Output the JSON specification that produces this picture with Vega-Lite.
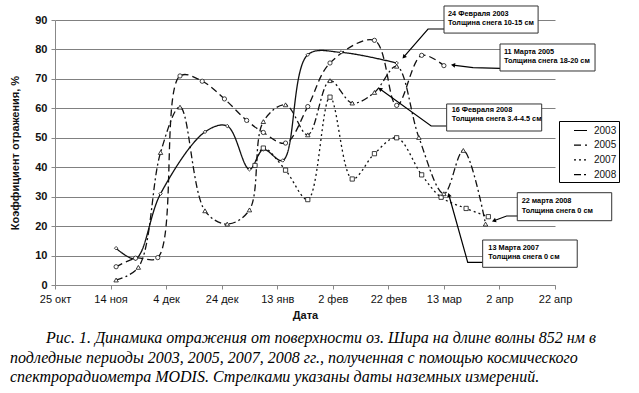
{
  "$schema": "https://vega.github.io/schema/vega-lite/v6.json",
  "width": 500,
  "height": 265,
  "autosize": {"type": "none"},
  "padding": {"left": 55, "top": 20, "right": 84, "bottom": 108},
  "background": "white",
  "config": {
    "view": {"stroke": null},
    "font": "Liberation Sans",
    "axis": {"labelColor": "#111", "titleColor": "#111", "domainColor": "#888", "tickColor": "#888"}
  },
  "title": {
    "text": [
      "\u2800\u2800\u2800Рис. 1. Динамика отражения от поверхности оз. Шира на длине волны 852 нм в",
      "подледные периоды 2003, 2005, 2007, 2008 гг., полученная с помощью космического",
      "спектрорадиометра MODIS. Стрелками указаны даты наземных измерений."
    ],
    "orient": "bottom",
    "anchor": "start",
    "frame": "group",
    "dx": -45,
    "offset": 10,
    "font": "Liberation Serif",
    "fontStyle": "italic",
    "fontWeight": "normal",
    "fontSize": 16,
    "lineHeight": 19.5,
    "color": "#000"
  },
  "datasets": {
    "series": [
      {"year": "2003", "date": "2007-11-16T00:00", "value": 12.5},
      {"year": "2003", "date": "2007-11-23T00:00", "value": 9},
      {"year": "2003", "date": "2007-12-02T00:00", "value": 31},
      {"year": "2003", "date": "2007-12-18T00:00", "value": 52},
      {"year": "2003", "date": "2007-12-26T00:00", "value": 54},
      {"year": "2003", "date": "2008-01-03T00:00", "value": 39.3},
      {"year": "2003", "date": "2008-01-08T00:00", "value": 46},
      {"year": "2003", "date": "2008-01-15T00:00", "value": 42.3},
      {"year": "2003", "date": "2008-01-24T00:00", "value": 78.2},
      {"year": "2003", "date": "2008-02-05T00:00", "value": 79},
      {"year": "2003", "date": "2008-02-25T00:00", "value": 75.4},
      {"year": "2005", "date": "2007-11-16T00:00", "value": 6.2},
      {"year": "2005", "date": "2007-11-23T00:00", "value": 9.1},
      {"year": "2005", "date": "2007-12-01T00:00", "value": 9.3},
      {"year": "2005", "date": "2007-12-09T00:00", "value": 71},
      {"year": "2005", "date": "2007-12-17T00:00", "value": 69.2},
      {"year": "2005", "date": "2007-12-25T00:00", "value": 63.2},
      {"year": "2005", "date": "2008-01-02T00:00", "value": 55.9},
      {"year": "2005", "date": "2008-01-08T00:00", "value": 51.8},
      {"year": "2005", "date": "2008-01-16T00:00", "value": 48.2},
      {"year": "2005", "date": "2008-01-24T00:00", "value": 60.6},
      {"year": "2005", "date": "2008-02-01T00:00", "value": 75.4},
      {"year": "2005", "date": "2008-02-17T00:00", "value": 83.1},
      {"year": "2005", "date": "2008-02-25T00:00", "value": 61},
      {"year": "2005", "date": "2008-03-05T00:00", "value": 78},
      {"year": "2005", "date": "2008-03-13T00:00", "value": 74.5},
      {"year": "2007", "date": "2008-01-05T00:00", "value": 40.6},
      {"year": "2007", "date": "2008-01-08T00:00", "value": 46.5},
      {"year": "2007", "date": "2008-01-16T00:00", "value": 39},
      {"year": "2007", "date": "2008-01-24T00:00", "value": 29},
      {"year": "2007", "date": "2008-02-01T00:00", "value": 63.8},
      {"year": "2007", "date": "2008-02-09T00:00", "value": 36},
      {"year": "2007", "date": "2008-02-17T00:00", "value": 44.6},
      {"year": "2007", "date": "2008-02-25T00:00", "value": 50},
      {"year": "2007", "date": "2008-03-05T00:00", "value": 37.4},
      {"year": "2007", "date": "2008-03-12T00:00", "value": 29.8},
      {"year": "2007", "date": "2008-03-21T00:00", "value": 26},
      {"year": "2007", "date": "2008-03-29T00:00", "value": 23.2},
      {"year": "2008", "date": "2007-11-16T00:00", "value": 1.7},
      {"year": "2008", "date": "2007-11-24T00:00", "value": 6},
      {"year": "2008", "date": "2007-12-02T00:00", "value": 45},
      {"year": "2008", "date": "2007-12-09T00:00", "value": 60.4},
      {"year": "2008", "date": "2007-12-18T00:00", "value": 25.2},
      {"year": "2008", "date": "2007-12-26T00:00", "value": 20.7},
      {"year": "2008", "date": "2008-01-03T00:00", "value": 25.5},
      {"year": "2008", "date": "2008-01-08T00:00", "value": 55.5},
      {"year": "2008", "date": "2008-01-16T00:00", "value": 61.2},
      {"year": "2008", "date": "2008-01-24T00:00", "value": 51},
      {"year": "2008", "date": "2008-02-01T00:00", "value": 69.4},
      {"year": "2008", "date": "2008-02-09T00:00", "value": 61.8},
      {"year": "2008", "date": "2008-02-17T00:00", "value": 65.4},
      {"year": "2008", "date": "2008-02-25T00:00", "value": 74.3},
      {"year": "2008", "date": "2008-03-04T00:00", "value": 50.1},
      {"year": "2008", "date": "2008-03-13T00:00", "value": 31},
      {"year": "2008", "date": "2008-03-20T00:00", "value": 45.7},
      {"year": "2008", "date": "2008-03-28T00:00", "value": 20.7}
    ],
    "boxes": [
      {"date": "2008-03-13T01:00", "date2": "2008-04-15T22:00", "value": 94.76, "value2": 85.56},
      {"date": "2008-04-02T05:00", "date2": "2008-05-06T10:00", "value": 81.85, "value2": 72.68},
      {"date": "2008-03-14T00:00", "date2": "2008-04-17T05:00", "value": 61.48, "value2": 52.3},
      {"date": "2008-04-08T10:00", "date2": "2008-05-12T10:00", "value": 31.35, "value2": 21.84},
      {"date": "2008-03-26T23:00", "date2": "2008-04-30T00:00", "value": 15.28, "value2": 6.01}
    ],
    "notes": [
      {"date": "2008-03-14T12:00", "value": 92.0, "text": "24 Февраля 2003"},
      {"date": "2008-03-14T12:00", "value": 89.1, "text": "Толщина снега 10-15 см"},
      {"date": "2008-04-03T15:00", "value": 79.24, "text": "11 Марта 2005"},
      {"date": "2008-04-03T15:00", "value": 76.18, "text": "Толщина снега 18-20 см"},
      {"date": "2008-03-15T19:00", "value": 59.44, "text": "16 Февраля 2008"},
      {"date": "2008-03-15T19:00", "value": 56.38, "text": "Толщина снега 3.4-4.5 см"},
      {"date": "2008-04-10T00:00", "value": 28.63, "text": "22 марта 2008"},
      {"date": "2008-04-10T00:00", "value": 25.13, "text": "Толщина снега 0 см"},
      {"date": "2008-03-29T00:00", "value": 12.67, "text": "13 Марта 2007"},
      {"date": "2008-03-29T00:00", "value": 9.61, "text": "Толщина снега 0 см"}
    ],
    "arrows": [
      {"arrow": "a1", "date": "2008-03-13T01:00", "value": 86.94},
      {"arrow": "a1", "date": "2008-03-07T07:00", "value": 86.94},
      {"arrow": "a1", "date": "2008-02-27T14:00", "value": 77.44},
      {"arrow": "a2", "date": "2008-04-02T05:00", "value": 73.6},
      {"arrow": "a2", "date": "2008-03-23T12:00", "value": 73.8},
      {"arrow": "a2", "date": "2008-03-16T07:00", "value": 74.7},
      {"arrow": "a3", "date": "2008-03-14T00:00", "value": 54.0},
      {"arrow": "a3", "date": "2008-03-08T10:00", "value": 54.0},
      {"arrow": "a3", "date": "2008-02-19T00:00", "value": 66.57},
      {"arrow": "a4", "date": "2008-04-08T19:00", "value": 23.44},
      {"arrow": "a4", "date": "2008-04-04T14:00", "value": 23.44},
      {"arrow": "a4", "date": "2008-03-31T00:00", "value": 21.84},
      {"arrow": "a5", "date": "2008-03-26T23:00", "value": 7.71},
      {"arrow": "a5", "date": "2008-03-21T14:00", "value": 7.71},
      {"arrow": "a5", "date": "2008-03-14T19:00", "value": 30.57}
    ],
    "heads": [
      {"date": "2008-02-27T14:00", "value": 77.44, "angle": 220},
      {"date": "2008-03-16T07:00", "value": 74.7, "angle": 278},
      {"date": "2008-02-19T00:00", "value": 66.57, "angle": 306},
      {"date": "2008-03-31T00:00", "value": 21.84, "angle": 250},
      {"date": "2008-03-14T19:00", "value": 30.57, "angle": 344}
    ]
  },
  "encoding": {
    "x": {
      "field": "date", "type": "temporal", "title": "Дата",
      "scale": {"domain": [{"year": 2007, "month": 10, "date": 25}, {"year": 2008, "month": 4, "date": 22}]},
      "axis": {
        "values": [
          {"year": 2007, "month": 10, "date": 25}, {"year": 2007, "month": 11, "date": 14},
          {"year": 2007, "month": 12, "date": 4}, {"year": 2007, "month": 12, "date": 24},
          {"year": 2008, "month": 1, "date": 13}, {"year": 2008, "month": 2, "date": 2},
          {"year": 2008, "month": 2, "date": 22}, {"year": 2008, "month": 3, "date": 13},
          {"year": 2008, "month": 4, "date": 2}, {"year": 2008, "month": 4, "date": 22}
        ],
        "labelExpr": "date(datum.value) + ' ' + ['янв','фев','мар','апр','май','июн','июл','авг','сен','окт','ноя','дек'][month(datum.value)]",
        "grid": false, "tickSize": 4, "labelPadding": 4, "labelFontSize": 11,
        "labelOverlap": false, "labelFlush": false,
        "titleFontSize": 11, "titleFontWeight": "bold", "titlePadding": 5
      }
    },
    "y": {
      "field": "value", "type": "quantitative", "title": "Коэффициент отражения, %",
      "scale": {"domain": [0, 90], "nice": false},
      "axis": {
        "values": [0, 10, 20, 30, 40, 50, 60, 70, 80, 90],
        "labelOverlap": false,
        "grid": true, "gridColor": "#808080", "gridWidth": 1,
        "tickSize": 4, "labelPadding": 4, "labelFontSize": 11, "labelFontWeight": "bold",
        "titleFontSize": 11, "titleFontWeight": "bold", "titlePadding": 14
      }
    }
  },
  "layer": [
    {
      "data": {"name": "series"},
      "mark": {"type": "line", "interpolate": "catmull-rom", "strokeWidth": 1.3, "color": "#111"},
      "encoding": {
        "strokeDash": {
          "field": "year", "type": "nominal",
          "scale": {"domain": ["2003", "2005", "2007", "2008"], "range": [[1, 0], [7, 4], [2, 3], [7, 3, 2, 3]]},
          "legend": {
            "orient": "none", "legendX": 504, "legendY": 101, "title": null,
            "padding": 2, "strokeColor": "#000", "fillColor": "#fff",
            "symbolType": "stroke", "symbolSize": 169, "symbolStrokeWidth": 1.2, "symbolStrokeColor": "#000",
            "symbolOffset": 12, "labelOffset": 6, "rowPadding": 1.7,
            "labelFontSize": 10, "labelColor": "#111",
            "labelExpr": "datum.label + '\u00a0\u00a0'"
          }
        }
      }
    },
    {
      "data": {"name": "series"},
      "transform": [{"filter": "datum.year == '2003'"}],
      "mark": {"type": "point", "shape": "diamond", "filled": true, "fill": "white", "stroke": "#111", "strokeWidth": 0.8, "size": 12, "opacity": 1}
    },
    {
      "data": {"name": "series"},
      "transform": [{"filter": "datum.year == '2005'"}],
      "mark": {"type": "point", "shape": "circle", "filled": true, "fill": "white", "stroke": "#111", "strokeWidth": 0.8, "size": 18, "opacity": 1}
    },
    {
      "data": {"name": "series"},
      "transform": [{"filter": "datum.year == '2007'"}],
      "mark": {"type": "point", "shape": "square", "filled": true, "fill": "white", "stroke": "#111", "strokeWidth": 0.8, "size": 18, "opacity": 1}
    },
    {
      "data": {"name": "series"},
      "transform": [{"filter": "datum.year == '2008'"}],
      "mark": {"type": "point", "shape": "triangle-up", "filled": true, "fill": "white", "stroke": "#111", "strokeWidth": 0.8, "size": 20, "opacity": 1}
    },
    {
      "data": {"name": "arrows"},
      "mark": {"type": "line", "color": "#000", "strokeWidth": 1.2},
      "encoding": {"detail": {"field": "arrow"}}
    },
    {
      "data": {"name": "heads"},
      "mark": {"type": "point", "shape": "triangle-up", "filled": true, "color": "#000", "size": 22, "opacity": 1},
      "encoding": {"angle": {"field": "angle", "type": "quantitative", "scale": null}}
    },
    {
      "data": {"name": "boxes"},
      "mark": {"type": "rect", "fill": "white", "stroke": "#333", "strokeWidth": 1},
      "encoding": {
        "x2": {"field": "date2"},
        "y2": {"field": "value2"}
      }
    },
    {
      "data": {"name": "notes"},
      "mark": {"type": "text", "align": "left", "baseline": "middle", "fontSize": 7.3, "fontWeight": "bold", "color": "#000"},
      "encoding": {"text": {"field": "text"}}
    }
  ]
}
